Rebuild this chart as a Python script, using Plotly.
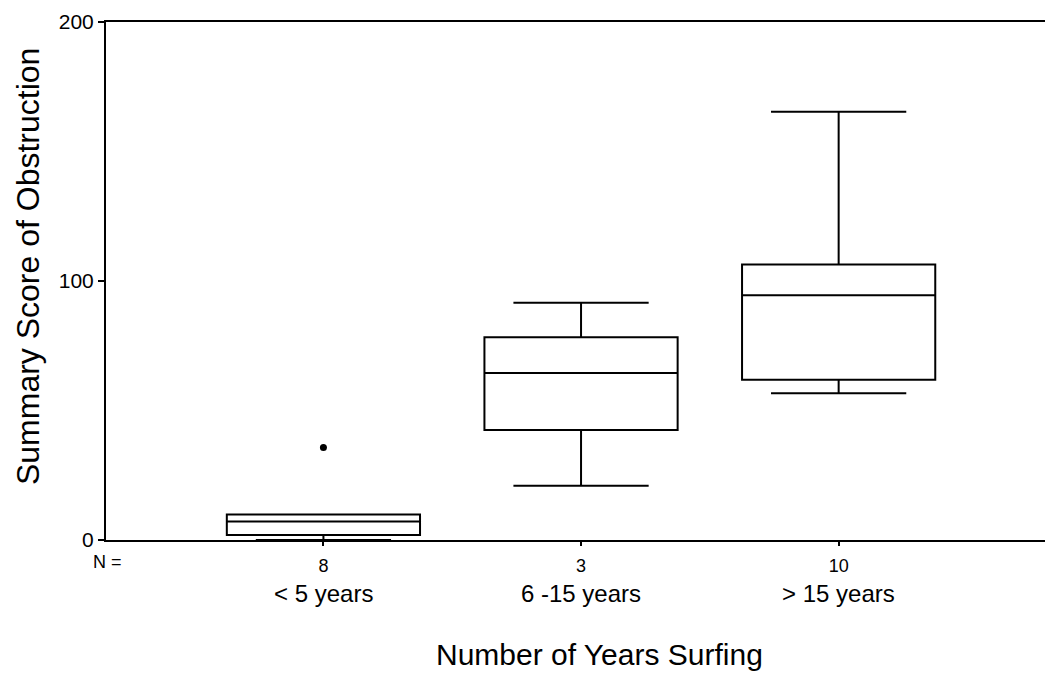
import plotly.graph_objects as go

# Box-plot summary values (score of obstruction)
groups = ["< 5 years", "6 -15 years", "> 15 years"]
n_counts = ["8", "3", "10"]
q1 = [1.9, 42.5, 61.9]
median = [7.1, 64.5, 94.5]
q3 = [9.8, 78.3, 106.4]
lowerfence = [0.0, 20.9, 56.7]
upperfence = [9.8, 91.6, 165.3]
outlier_group = [0]
outlier_value = [35.7]
y_ticks = [0, 100, 200]

FONT = "Liberation Sans, Arial, sans-serif"
positions = list(range(len(groups)))

fig = go.Figure()

fig.add_trace(go.Box(
    x=positions,
    q1=q1, median=median, q3=q3,
    lowerfence=lowerfence, upperfence=upperfence,
    width=0.75,
    whiskerwidth=0.7,
    fillcolor="white",
    line=dict(color="black", width=2),
    boxpoints=False,
    showlegend=False,
    hoverinfo="skip",
))

# outlier
fig.add_trace(go.Scatter(
    x=outlier_group, y=outlier_value,
    mode="markers",
    marker=dict(symbol="circle", size=7, color="black"),
    showlegend=False,
))

annotations = []
for pos, name in zip(positions, groups):
    annotations.append(dict(
        x=pos, xref="x", y=0, yref="paper", yshift=-53,
        text=name, showarrow=False, yanchor="middle",
        font=dict(size=24, color="black", family=FONT),
    ))

annotations.append(dict(
    x=0.002, xref="paper", y=0, yref="paper", yshift=-22,
    text="N =", showarrow=False, yanchor="middle", xanchor="center",
    font=dict(size=18, color="black", family=FONT),
))
annotations.append(dict(
    x=0.526, xref="paper", y=0, yref="paper", yshift=-114,
    text="Number of Years Surfing", showarrow=False, yanchor="middle",
    font=dict(size=30, color="black", family=FONT),
))
annotations.append(dict(
    x=-0.083, xref="paper", y=0.527, yref="paper", textangle=-90,
    text="Summary Score of Obstruction", showarrow=False,
    xanchor="center", yanchor="middle",
    font=dict(size=32, color="black", family=FONT),
))

fig.update_layout(
    width=1045, height=673,
    margin=dict(l=106, r=0, t=22, b=133),
    paper_bgcolor="white", plot_bgcolor="white",
    font=dict(family=FONT, color="black"),
    annotations=annotations,
    xaxis=dict(
        range=[-0.844, 2.801],
        tickvals=positions, ticktext=n_counts,
        ticks="outside", ticklen=4, tickcolor="black", tickwidth=1.5,
        tickfont=dict(size=18, color="black"),
        ticklabelstandoff=4,
        showline=True, linecolor="black", linewidth=2, mirror=True,
        showgrid=False, zeroline=False,
    ),
    yaxis=dict(
        range=[0, 200],
        tickvals=y_ticks,
        ticks="outside", ticklen=6, tickcolor="black", tickwidth=1.5,
        tickfont=dict(size=21, color="black"),
        showline=True, linecolor="black", linewidth=2,
        showgrid=False, zeroline=False,
    ),
)

# drop the default page margin so the figure sits at the window's corner
fig.write_html(
    "out.html",
    config={"displayModeBar": False},
    post_script="document.body.style.margin='0';",
)
